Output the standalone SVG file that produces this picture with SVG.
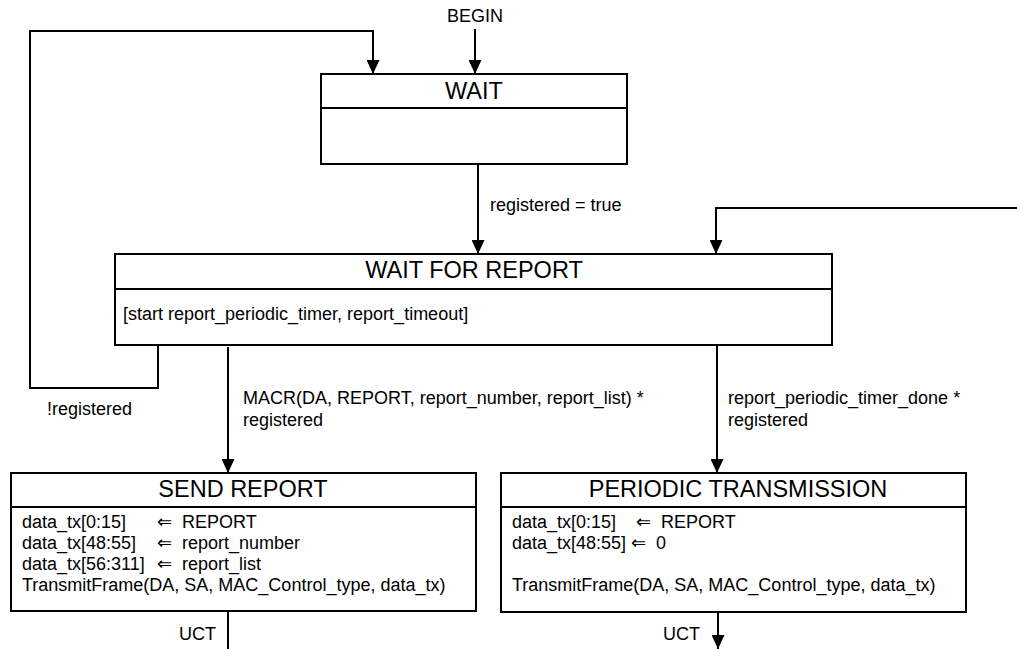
<svg xmlns="http://www.w3.org/2000/svg" width="1017" height="649" viewBox="0 0 1017 649">
<style>
text{font-family:"Liberation Sans",Arial,"DejaVu Sans",sans-serif;fill:#000}
.t{font-size:23.5px;text-anchor:middle}
.b{font-size:18px}
.a{font-size:18px;font-family:"DejaVu Sans",sans-serif}
.box{fill:#fff;stroke:#000;stroke-width:2}
.ln{fill:none;stroke:#000;stroke-width:2}
</style>
<defs>
<marker id="ah" viewBox="0 0 14 13" refX="14" refY="6.5" markerWidth="14" markerHeight="13" markerUnits="userSpaceOnUse" orient="auto">
<path d="M0,0 L14,6.5 L0,13 Z" fill="#000"/>
</marker>
</defs>
<g id="connectors">
<text class="b" x="475" y="22" text-anchor="middle">BEGIN</text>
<path class="ln" d="M475,29 V74" marker-end="url(#ah)"/>
<path class="ln" d="M158,345 V388 H30 V31 H373 V74" marker-end="url(#ah)"/>
<text class="b" x="47" y="415">!registered</text>
<path class="ln" d="M478,164 V254" marker-end="url(#ah)"/>
<text class="b" x="490" y="211">registered = true</text>
<path class="ln" d="M1017,208 H716 V254" marker-end="url(#ah)"/>
<path class="ln" d="M228,347 V473" marker-end="url(#ah)"/>
<text class="b" x="243" y="404">MACR(DA, REPORT, report_number, report_list) *</text>
<text class="b" x="243" y="426">registered</text>
<path class="ln" d="M717,345 V473" marker-end="url(#ah)"/>
<text class="b" x="728" y="404">report_periodic_timer_done *</text>
<text class="b" x="728" y="426">registered</text>
<path class="ln" d="M228,611 V649"/>
<text class="b" x="179" y="640">UCT</text>
<path class="ln" d="M718,612 V649" marker-end="url(#ah)"/>
<text class="b" x="663" y="640">UCT</text>
</g>
<g id="wait">
<rect class="box" x="321" y="74" width="306" height="90"/>
<line class="ln" x1="321" y1="108" x2="627" y2="108"/>
<text class="t" x="474" y="99">WAIT</text>
</g>
<g id="wait_for_report">
<rect class="box" x="115" y="254" width="717" height="91"/>
<line class="ln" x1="115" y1="289" x2="832" y2="289"/>
<text class="t" x="474" y="278">WAIT FOR REPORT</text>
<text class="b" x="123" y="320">[start report_periodic_timer, report_timeout]</text>
</g>
<g id="send_report">
<rect class="box" x="11" y="473" width="465" height="138"/>
<line class="ln" x1="11" y1="507" x2="476" y2="507"/>
<text class="t" x="243" y="497">SEND REPORT</text>
<text class="b" x="22" y="528">data_tx[0:15]<tspan class="a" x="157">⇐</tspan><tspan x="182">REPORT</tspan></text>
<text class="b" x="22" y="549">data_tx[48:55]<tspan class="a" x="157">⇐</tspan><tspan x="182">report_number</tspan></text>
<text class="b" x="22" y="570">data_tx[56:311]<tspan class="a" x="157">⇐</tspan><tspan x="182">report_list</tspan></text>
<text class="b" x="22" y="591">TransmitFrame(DA, SA, MAC_Control_type, data_tx)</text>
</g>
<g id="periodic_transmission">
<rect class="box" x="501" y="473" width="465" height="139"/>
<line class="ln" x1="501" y1="507" x2="966" y2="507"/>
<text class="t" x="738" y="497">PERIODIC TRANSMISSION</text>
<text class="b" x="512" y="528">data_tx[0:15]<tspan class="a" x="636">⇐</tspan><tspan x="661">REPORT</tspan></text>
<text class="b" x="512" y="549">data_tx[48:55]<tspan class="a" x="631">⇐</tspan><tspan x="656">0</tspan></text>
<text class="b" x="512" y="591">TransmitFrame(DA, SA, MAC_Control_type, data_tx)</text>
</g>
</svg>
